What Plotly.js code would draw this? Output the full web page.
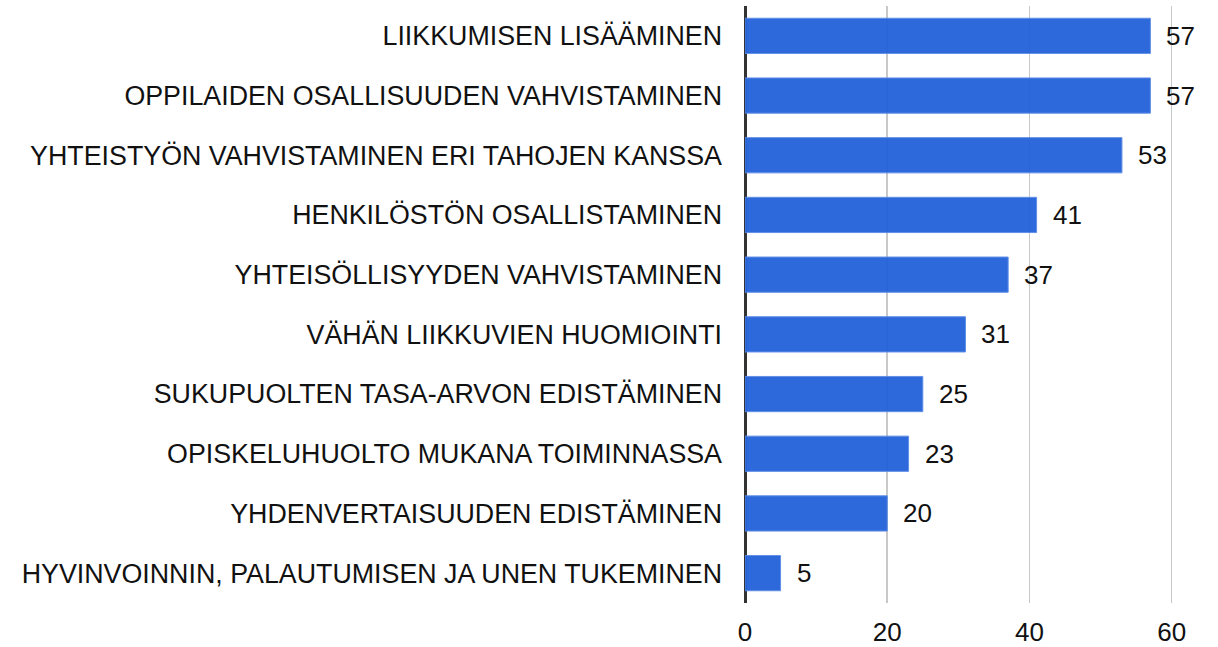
<!DOCTYPE html>
<html>
<head>
<meta charset="utf-8">
<script src="https://cdn.plot.ly/plotly-3.0.1.min.js"></script>
<style>html,body{margin:0;padding:0;background:#fff;}#chart{width:1218px;height:647px;}</style>
</head>
<body>
<div id="chart"></div>
<script>
const categories = [
  "LIIKKUMISEN LISÄÄMINEN",
  "OPPILAIDEN OSALLISUUDEN VAHVISTAMINEN",
  "YHTEISTYÖN VAHVISTAMINEN ERI TAHOJEN KANSSA",
  "HENKILÖSTÖN OSALLISTAMINEN",
  "YHTEISÖLLISYYDEN VAHVISTAMINEN",
  "VÄHÄN LIIKKUVIEN HUOMIOINTI",
  "SUKUPUOLTEN TASA-ARVON EDISTÄMINEN",
  "OPISKELUHUOLTO MUKANA TOIMINNASSA",
  "YHDENVERTAISUUDEN EDISTÄMINEN",
  "HYVINVOINNIN, PALAUTUMISEN JA UNEN TUKEMINEN"
];
const values = [57, 57, 53, 41, 37, 31, 25, 23, 20, 5];
const xTicks = [0, 20, 40, 60];

const fam = "'Liberation Sans', Arial, sans-serif";
const font = {family: fam, size: 26, color: "#111"};
const catFont = {family: fam, size: 26.8, color: "#111"};

const trace = {
  type: "bar",
  orientation: "h",
  x: values,
  y: categories,
  marker: {color: "#2563D9", opacity: 0.96, line: {color: "#5B8BE6", width: 1}},
  hoverinfo: "none"
};

const annotations = values.map((v, i) => ({
  x: v, y: categories[i], xref: "x", yref: "y",
  text: String(v), showarrow: false, xanchor: "left", xshift: 14,
  font: font
}));

const layout = {
  width: 1218, height: 647,
  margin: {l: 745, r: 10, t: 6, b: 44},
  paper_bgcolor: "#fff", plot_bgcolor: "#fff",
  font: font,
  bargap: 0.41,
  showlegend: false,
  xaxis: {
    range: [0, 65.1],
    tickvals: xTicks,
    ticktext: xTicks.map(String),
    showgrid: true, gridcolor: "#c8c8c8", gridwidth: 1.5,
    zeroline: true, zerolinecolor: "#333", zerolinewidth: 3,
    showline: false, ticks: "",
    ticklabelstandoff: 11,
    tickfont: font
  },
  yaxis: {
    autorange: "reversed",
    showgrid: false, zeroline: false, showline: false, ticks: "",
    ticklabelstandoff: 22,
    tickfont: catFont
  },
  annotations: annotations
};

Plotly.newPlot("chart", [trace], layout, {displayModeBar: false, staticPlot: true});
</script>
</body>
</html>
